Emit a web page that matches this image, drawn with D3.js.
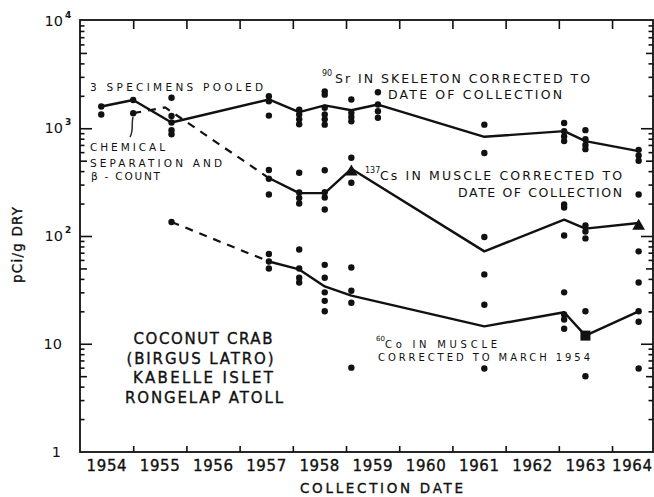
<!DOCTYPE html>
<html>
<head>
<meta charset="utf-8">
<script src="https://cdn.jsdelivr.net/npm/d3@7"></script>
<style>
  html, body { margin: 0; padding: 0; background: #fff; }
  svg { display: block; }
  text { font-family: "DejaVu Sans", sans-serif; fill: #111; }
  .heavy { stroke: #111; stroke-width: 0.35px; }
</style>
</head>
<body>
<svg id="chart" width="654" height="497"></svg>
<script>
// ---- data -------------------------------------------------------------
const yearLabels = [1954, 1955, 1956, 1957, 1958, 1959, 1960, 1961, 1962, 1963, 1964];
const decades = [1, 10, 100, 1000, 10000];

// 90Sr in skeleton (pCi/g dry), corrected to date of collection
const srMean = [[1954.4, 1590], [1955.0, 1830], [1955.72, 1130], [1957.55, 1850],
  [1958.12, 1410], [1958.6, 1630], [1959.1, 1470], [1959.6, 1660],
  [1961.6, 833], [1963.1, 940], [1963.5, 760], [1964.5, 613]];
const srSamples = [
  [1954.4, [1590, 1340]],
  [1955.0, [1830]],
  [1955.72, [1920, 1300, 1130, 960, 880]],
  [1957.55, [1980, 1780, 1310]],
  [1958.12, [1490, 1340, 1210, 1090]],
  [1958.6, [2200, 2050, 1550, 1340, 1210, 1080]],
  [1959.1, [1850, 1390, 1270, 1160]],
  [1959.6, [2160, 1660, 1440, 1250]],
  [1961.6, [1080, 590]],
  [1963.1, [1120, 940, 840, 760]],
  [1963.5, [960, 790, 700, 640]],
  [1964.5, [630, 560, 500]]
];

// 137Cs in muscle, corrected to date of collection
const csEarly = [[1955.0, 1380], [1955.6, 1560], [1957.55, 345]];
const csMean = [[1957.55, 345], [1958.12, 250], [1958.6, 250], [1959.1, 420],
  [1961.6, 72], [1963.1, 142], [1963.5, 117], [1964.5, 132]];
const csSamples = [
  [1955.0, [1380]],
  [1957.55, [410, 340, 243]],
  [1958.12, [386, 253, 225, 200]],
  [1958.6, [408, 255, 228, 176]],
  [1959.1, [532, 312]],
  [1961.6, [98]],
  [1963.1, [196, 184, 101]],
  [1963.5, [125, 110, 95]],
  [1964.5, [243, 72]]
];
const csTriangles = [[1959.1, 420], [1964.5, 132]];

// 60Co in muscle, corrected to March 1954
const coEarly = [[1955.72, 135], [1957.55, 58]];
const coMean = [[1957.55, 58], [1958.12, 49], [1958.6, 34], [1959.1, 28],
  [1961.6, 14.5], [1963.1, 19.6], [1963.5, 11.9], [1964.5, 20]];
const coSamples = [
  [1955.72, [135]],
  [1957.55, [68, 58, 50]],
  [1958.12, [75, 50, 41, 37]],
  [1958.6, [54, 41, 30, 25, 20]],
  [1959.1, [51, 31, 24, 6]],
  [1961.6, [44, 23, 5.9]],
  [1963.1, [30, 18.7, 16.8, 13.8]],
  [1963.5, [20, 5.0]],
  [1964.5, [37, 20, 16, 5.9]]
];
const coSquares = [[1963.5, 11.9]];

// ---- scales -----------------------------------------------------------
const plotLeft = 80, plotRight = 653, plotTop = 20, plotBottom = 452;
const x = d3.scaleLinear().domain([1954, 1964.77]).range([plotLeft, plotRight]);
const y = d3.scaleLog().domain([1, 10000]).range([451.5, 20.5]);

const svg = d3.select("#chart");
const ink = "#111";

// ---- frame and ticks --------------------------------------------------
svg.append("rect")
  .attr("x", plotLeft).attr("y", plotTop)
  .attr("width", plotRight - plotLeft).attr("height", plotBottom - plotTop)
  .attr("fill", "none").attr("stroke", ink).attr("stroke-width", 1.8);

const yearTicks = d3.range(1955, 1965);
const noLabel = () => "";

function styleAxis(g) {
  g.select(".domain").remove();
  g.selectAll(".tick line").attr("stroke", ink).attr("stroke-width", 1.6);
  g.selectAll(".tick text").remove();
}

svg.append("g").attr("transform", `translate(0,${plotTop})`)
  .call(d3.axisBottom(x).tickValues(yearTicks).tickSize(9).tickFormat(noLabel))
  .call(styleAxis);
svg.append("g").attr("transform", `translate(0,${plotBottom})`)
  .call(d3.axisTop(x).tickValues(yearTicks).tickSize(6).tickFormat(noLabel))
  .call(styleAxis);

const minors = [], halves = [];
[1, 10, 100, 1000].forEach(d => {
  for (let k = 2; k <= 9; k++) (k === 5 ? halves : minors).push(d * k);
});

[[d3.axisRight, plotLeft], [d3.axisLeft, plotRight]].forEach(([axisFn, pos]) => {
  svg.append("g").attr("transform", `translate(${pos},0)`)
    .call(axisFn(y).tickValues(decades.slice(1, 4)).tickSize(12).tickFormat(noLabel))
    .call(styleAxis);
  svg.append("g").attr("transform", `translate(${pos},0)`)
    .call(axisFn(y).tickValues(halves).tickSize(7).tickFormat(noLabel))
    .call(styleAxis);
  svg.append("g").attr("transform", `translate(${pos},0)`)
    .call(axisFn(y).tickValues(minors).tickSize(4.5).tickFormat(noLabel))
    .call(styleAxis);
});

// ---- tick labels ------------------------------------------------------
// year names sit mid-year, between the tick marks; the last one is kept inside the page
svg.append("g").selectAll("text").data(yearLabels).join("text")
  .attr("class", "heavy")
  .attr("x", d => Math.min(x(d + 0.5), 652 - 20))
  .attr("y", 471)
  .attr("text-anchor", "middle").attr("font-size", 15)
  .attr("textLength", 40).attr("lengthAdjust", "spacing")
  .text(d => d);

decades.forEach(d => {
  const exp = Math.round(Math.log10(d));
  const yy = y(d) + 5;
  if (exp === 0) {
    svg.append("text").attr("x", 61).attr("y", yy)
      .attr("text-anchor", "end").attr("font-size", 14.5).text("1");
  } else if (exp === 1) {
    svg.append("text").attr("x", 62).attr("y", yy)
      .attr("text-anchor", "end").attr("font-size", 14.5).text("10");
  } else {
    svg.append("text").attr("x", 63).attr("y", yy)
      .attr("text-anchor", "end").attr("font-size", 14.5).text("10");
    svg.append("text").attr("x", 65).attr("y", yy - 8)
      .attr("font-size", 9).attr("font-weight", "bold").text(exp);
  }
});

svg.append("text")
  .attr("class", "heavy")
  .attr("transform", "translate(22,245) rotate(-90)")
  .attr("text-anchor", "middle").attr("font-size", 13.5)
  .attr("textLength", 76).attr("lengthAdjust", "spacing")
  .text("pCi/g DRY");

svg.append("text")
  .attr("class", "heavy")
  .attr("x", 300).attr("y", 493).attr("font-size", 13.5)
  .attr("textLength", 163).attr("lengthAdjust", "spacing")
  .text("COLLECTION  DATE");

// ---- series lines ------------------------------------------------------
const line = d3.line().x(d => x(d[0])).y(d => y(d[1]));

[srMean, csMean, coMean].forEach(s => {
  svg.append("path").attr("d", line(s))
    .attr("fill", "none").attr("stroke", ink)
    .attr("stroke-width", 2.4).attr("stroke-linejoin", "round");
});
[csEarly, coEarly].forEach(s => {
  svg.append("path").attr("d", line(s))
    .attr("fill", "none").attr("stroke", ink)
    .attr("stroke-width", 2.2).attr("stroke-dasharray", "8,7");
});

// ---- individual specimens ----------------------------------------------
const points = [srSamples, csSamples, coSamples]
  .flatMap(s => s.flatMap(([t, vals]) => vals.map(v => [t, v])));

svg.append("g").selectAll("circle").data(points).join("circle")
  .attr("cx", d => x(d[0])).attr("cy", d => y(d[1]))
  .attr("r", 3.2).attr("fill", ink);

svg.append("g").selectAll("path").data(csTriangles).join("path")
  .attr("transform", d => `translate(${x(d[0])},${y(d[1]) + 3})`)
  .attr("d", d3.symbol(d3.symbolTriangle, 70))
  .attr("fill", ink);

svg.append("g").selectAll("rect").data(coSquares).join("rect")
  .attr("x", d => x(d[0]) - 5).attr("y", d => y(d[1]) - 5)
  .attr("width", 10).attr("height", 10).attr("fill", ink);

// ---- annotations --------------------------------------------------------
function note(txt, px, py, size, len, fill, anchor) {
  const t = svg.append("text").attr("x", px).attr("y", py)
    .attr("font-size", size).attr("fill", fill || "#222")
    .attr("text-anchor", anchor || "start").text(txt);
  if (len) t.attr("textLength", len).attr("lengthAdjust", "spacing");
  return t;
}

note("3 SPECIMENS POOLED", 90, 91, 10.5, 173, "#555");
note("CHEMICAL", 90, 151, 10.5, 75, "#555");
note("SEPARATION AND", 90, 167, 10.5, 132, "#555");
note("β - COUNT", 91, 180, 10.5, 69, "#555");
svg.append("path")
  .attr("d", "M133,117 C131,124 134,130 130,137")
  .attr("fill", "none").attr("stroke", "#333").attr("stroke-width", 1.6);

note("90", 322, 76, 8, null, "#222");
note("Sr IN SKELETON CORRECTED TO", 335, 83, 12.5, 255);
note("DATE OF COLLECTION", 388, 98.5, 12.5, 174);

note("137", 365, 173, 8, null, "#333");
note("Cs IN MUSCLE CORRECTED TO", 380, 180, 12.5, 242);
note("DATE OF COLLECTION", 458, 197, 12.5, 164);

note("60", 376, 341, 7, null, "#555");
note("Co IN MUSCLE", 385, 348, 10, 112, "#555");
note("CORRECTED TO MARCH 1954", 378, 361, 10, 212, "#555");

note("COCONUT CRAB", 203, 344, 15, 139, "#111", "middle").attr("class", "heavy");
note("(BIRGUS LATRO)", 200, 364, 15, 147, "#111", "middle").attr("class", "heavy");
note("KABELLE ISLET", 203, 383, 15, 140, "#111", "middle").attr("class", "heavy");
note("RONGELAP ATOLL", 204, 403, 15, 158, "#111", "middle").attr("class", "heavy");
</script>
</body>
</html>
